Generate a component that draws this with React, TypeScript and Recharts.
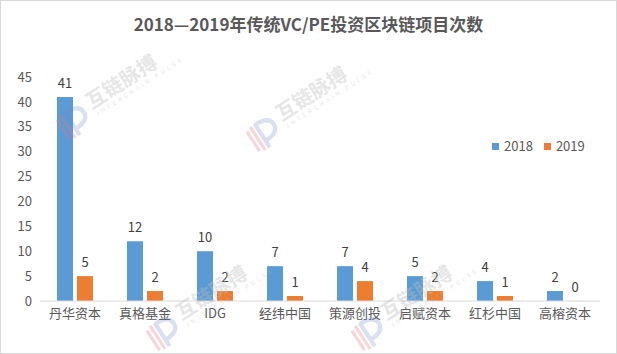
import React from 'react';
import { BarChart, Bar, XAxis, YAxis, LabelList } from 'recharts';

const firms = ['丹华资本', '真格基金', 'IDG', '经纬中国', '策源创投', '启赋资本', '红杉中国', '高榕资本'];
const counts2018 = [41, 12, 10, 7, 7, 5, 4, 2];
const counts2019 = [5, 2, 2, 1, 4, 2, 1, 0];
const yTicks = [0, 5, 10, 15, 20, 25, 30, 35, 40, 45];
const seriesMeta = [
  { key: 'y2018', name: '2018', color: '#5B9BD5' },
  { key: 'y2019', name: '2019', color: '#ED7D31' },
];

const data = firms.map((name, i) => ({ name, y2018: counts2018[i], y2019: counts2019[i] }));

const FONT = '"Microsoft YaHei", "Noto Sans CJK SC", sans-serif';

// background watermark spots (centre of the 互链脉搏 text)
const marks = [
  [120, 80],
  [310, 92],
  [210, 291],
  [415, 291],
];

// zero values still need their label, so give them a hair-thin bar
const tinyForZero = (value: any) => (value === 0 ? 0.1 : 0);

const Watermark = ({ x, y }: { x: number; y: number }) => (
  <div
    style={{
      position: 'absolute',
      left: x,
      top: y,
      transform: 'translate(-50%, -50%) rotate(-33deg)',
      pointerEvents: 'none',
      whiteSpace: 'nowrap',
    }}
  >
    <div style={{ position: 'relative', fontSize: 20, fontWeight: 'bold', lineHeight: '22px', color: 'rgba(190,190,190,0.4)', fontFamily: FONT }}>
      互链脉搏
      <svg width="32" height="34" viewBox="0 0 30 32" style={{ position: 'absolute', left: -38, top: 2 }}>
        <path d="M3 6 L3 28 M8 4 L8 30" stroke="rgba(230,120,130,0.3)" strokeWidth="3" fill="none" />
        <path d="M13 4 L13 30 M13 5 Q28 5 28 14 Q28 23 13 23" stroke="rgba(110,130,200,0.25)" strokeWidth="4" fill="none" />
      </svg>
      <div style={{ position: 'absolute', left: 2, top: 22, fontSize: 6, fontWeight: 'normal', letterSpacing: 3, lineHeight: '8px' }}>
        INTERCHAIN PULSE
      </div>
    </div>
  </div>
);

const App: React.FC = () => {
  return (
    <div
      style={{
        position: 'absolute',
        left: 0,
        top: 0,
        width: 617,
        height: 354,
        background: '#fff',
        boxSizing: 'border-box',
        border: '1px solid #d9d9d9',
        fontFamily: FONT,
        overflow: 'hidden',
      }}
    >
      <div
        style={{
          position: 'absolute',
          top: 10,
          left: 0,
          width: 615,
          textAlign: 'center',
          fontSize: 17,
          fontWeight: 'bold',
          color: '#595959',
          lineHeight: '26px',
        }}
      >
        2018—2019年传统VC/PE投资区块链项目次数
      </div>
      <div style={{ position: 'absolute', left: -1, top: -1 }}>
        <BarChart
          width={617}
          height={354}
          data={data}
          margin={{ top: 77, right: 17, left: 0, bottom: 23 }}
          barCategoryGap={17}
          barGap={4}
        >
          <XAxis
            dataKey="name"
            height={30}
            tickLine={false}
            axisLine={{ stroke: '#d9d9d9' }}
            tick={{ fill: '#595959', fontSize: 13, fontFamily: FONT }}
            interval={0}
          />
          <YAxis
            width={40}
            domain={[0, 45]}
            ticks={yTicks}
            tickLine={false}
            axisLine={false}
            tick={{ fill: '#595959', fontSize: 13, fontFamily: FONT }}
          />
          {seriesMeta.map((s) => (
            <Bar key={s.key} dataKey={s.key} name={s.name} fill={s.color} minPointSize={tinyForZero} isAnimationActive={false}>
              <LabelList dataKey={s.key} position="top" offset={9} fill="#404040" fontSize={13} fontFamily={FONT} />
            </Bar>
          ))}
        </BarChart>
      </div>
      <div style={{ position: 'absolute', left: 491, top: 136, display: 'flex', alignItems: 'center', fontSize: 13, color: '#595959' }}>
        {seriesMeta.map((s) => (
          <div key={s.key} style={{ display: 'flex', alignItems: 'center', marginRight: 11 }}>
            <span style={{ display: 'inline-block', width: 7, height: 7, background: s.color, marginRight: 5 }} />
            <span style={{ lineHeight: '18px' }}>{s.name}</span>
          </div>
        ))}
      </div>
      {marks.map(([x, y], i) => (
        <Watermark key={i} x={x} y={y} />
      ))}
    </div>
  );
};

export default App;
